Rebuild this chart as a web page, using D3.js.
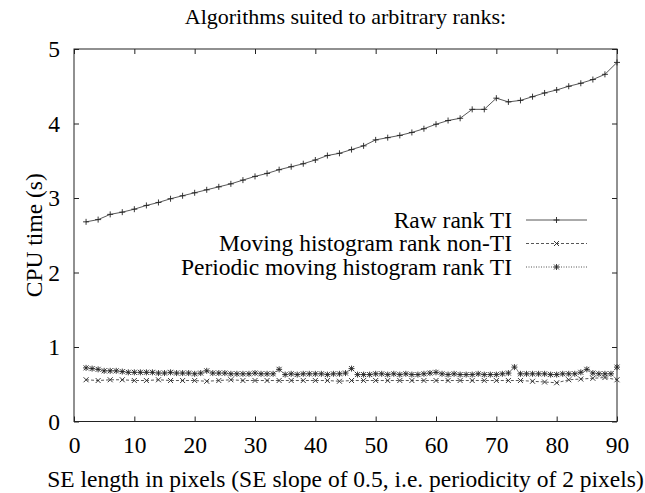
<!DOCTYPE html>
<html>
<head>
<meta charset="utf-8">
<script src="https://cdn.jsdelivr.net/npm/d3@7"></script>
<style>
  body { margin: 0; background: #fff; }
</style>
</head>
<body>
<svg id="chart" width="645" height="493"></svg>
<script>
// SE lengths (pixels) and CPU times (seconds)
const rawRankX = [2,4,6,8,10,12,14,16,18,20,22,24,26,28,30,32,34,36,38,40,42,44,46,48,50,
                  52,54,56,58,60,62,64,66,68,70,72,74,76,78,80,82,84,86,88,90];
const rawRankY = [2.68,2.71,2.78,2.81,2.85,2.90,2.94,2.99,3.03,3.07,3.11,3.15,3.19,3.24,3.29,
                  3.33,3.38,3.42,3.46,3.51,3.57,3.60,3.65,3.70,3.78,3.81,3.84,3.88,3.93,3.99,
                  4.04,4.07,4.19,4.19,4.34,4.29,4.31,4.36,4.41,4.45,4.50,4.54,4.59,4.66,4.82];

const movingX = [2,4,6,8,10,12,14,16,18,20,22,24,26,28,30,32,34,36,38,40,42,44,46,48,50,
                 52,54,56,58,60,62,64,66,68,70,72,74,76,78,80,82,84,86,88,90];
const movingY = [0.56,0.55,0.56,0.56,0.55,0.55,0.56,0.55,0.55,0.55,
                 0.54,0.55,0.56,0.55,0.55,0.55,0.55,0.55,0.55,0.55,
                 0.55,0.54,0.55,0.55,0.55,0.55,0.55,0.55,0.55,0.55,
                 0.55,0.55,0.55,0.55,0.55,0.55,0.55,0.54,0.53,0.52,
                 0.56,0.57,0.58,0.59,0.56];

const periodicX = [2,3,4,5,6,7,8,9,10,11,12,13,14,15,16,17,18,19,20,21,22,23,24,25,26,27,28,29,30,
                   31,32,33,34,35,36,37,38,39,40,41,42,43,44,45,46,47,48,49,50,51,52,53,54,55,56,
                   57,58,59,60,61,62,63,64,65,66,67,68,69,70,71,72,73,74,75,76,77,78,79,80,81,82,
                   83,84,85,86,87,88,89,90];
const periodicY = [0.72,0.71,0.70,0.68,0.68,0.68,0.67,0.66,0.66,0.66,
                   0.66,0.66,0.65,0.65,0.66,0.65,0.65,0.65,0.64,0.65,
                   0.68,0.65,0.65,0.65,0.64,0.64,0.64,0.64,0.65,0.64,
                   0.64,0.64,0.70,0.63,0.64,0.63,0.64,0.64,0.64,0.64,
                   0.63,0.64,0.64,0.65,0.71,0.63,0.63,0.63,0.64,0.64,
                   0.63,0.64,0.63,0.64,0.63,0.63,0.64,0.65,0.66,0.64,
                   0.63,0.64,0.63,0.63,0.63,0.64,0.63,0.63,0.63,0.64,
                   0.65,0.73,0.64,0.64,0.64,0.64,0.64,0.63,0.63,0.64,
                   0.64,0.64,0.66,0.70,0.65,0.64,0.64,0.64,0.73];

const seriesNames = ["Raw rank TI", "Moving histogram rank non-TI", "Periodic moving histogram rank TI"];
const xTicks = [0,10,20,30,40,50,60,70,80,90];
const yTicks = [0,1,2,3,4,5];

const titleText = "Algorithms suited to arbitrary ranks:";
const xLabel = "SE length in pixels (SE slope of 0.5, i.e. periodicity of 2 pixels)";
const yLabel = "CPU time (s)";

const serif = '"Liberation Serif", "Times New Roman", "DejaVu Serif", serif';
const fontSize = 23.5;

const svg = d3.select("#chart");
const M = { left: 74, right: 617, top: 49, bottom: 421.5 };
const x = d3.scaleLinear().domain([0, 90]).range([M.left, M.right]);
const y = d3.scaleLinear().domain([0, 5]).range([M.bottom, M.top]);

const series = [
  { name: seriesNames[0], xs: rawRankX, ys: rawRankY, dash: null, marker: "plus" },
  { name: seriesNames[1], xs: movingX, ys: movingY, dash: "3,2", marker: "cross" },
  { name: seriesNames[2], xs: periodicX, ys: periodicY, dash: "1,1.5", marker: "star" }
];

// axes with inward ticks on all four sides
const tickLen = 5;
const styleLabels = g => g.selectAll("text")
  .attr("font-family", serif).attr("font-size", fontSize).attr("fill", "#000");
svg.append("g").attr("transform", `translate(0,${M.bottom})`)
  .call(d3.axisBottom(x).tickValues(xTicks).tickFormat(d3.format("d"))
        .tickSizeInner(-tickLen).tickSizeOuter(0).tickPadding(15))
  .call(g => g.select(".domain").remove())
  .call(styleLabels);
svg.append("g").attr("transform", `translate(0,${M.top})`)
  .call(d3.axisTop(x).tickValues(xTicks).tickFormat("").tickSizeInner(-tickLen).tickSizeOuter(0))
  .call(g => g.select(".domain").remove());
svg.append("g").attr("transform", `translate(${M.left},0)`)
  .call(d3.axisLeft(y).tickValues(yTicks).tickFormat(d3.format("d"))
        .tickSizeInner(-tickLen).tickSizeOuter(0).tickPadding(14))
  .call(g => g.select(".domain").remove())
  .call(styleLabels);
svg.append("g").attr("transform", `translate(${M.right},0)`)
  .call(d3.axisRight(y).tickValues(yTicks).tickFormat("").tickSizeInner(-tickLen).tickSizeOuter(0))
  .call(g => g.select(".domain").remove());
svg.selectAll(".tick line").attr("stroke", "#222");

// plot frame
svg.append("rect")
  .attr("x", M.left).attr("y", M.top)
  .attr("width", M.right - M.left).attr("height", M.bottom - M.top)
  .attr("fill", "none").attr("stroke", "#222").attr("stroke-width", 1);

// point symbols: + , x and their combination
function markerPath(type, cx, cy) {
  const p = d3.path();
  const s = 3, c = 2.5;
  if (type === "plus" || type === "star") {
    p.moveTo(cx - s, cy); p.lineTo(cx + s, cy);
    p.moveTo(cx, cy - s); p.lineTo(cx, cy + s);
  }
  if (type === "cross" || type === "star") {
    p.moveTo(cx - c, cy - c); p.lineTo(cx + c, cy + c);
    p.moveTo(cx - c, cy + c); p.lineTo(cx + c, cy - c);
  }
  return p.toString();
}

const line = d3.line().x(d => x(d[0])).y(d => y(d[1]));
series.forEach(s => {
  const pts = s.xs.map((v, i) => [v, s.ys[i]]);
  svg.append("path").datum(pts)
    .attr("d", line).attr("fill", "none")
    .attr("stroke", "#444").attr("stroke-width", 0.9)
    .attr("stroke-dasharray", s.dash);
  svg.append("g").selectAll("path").data(pts).join("path")
    .attr("d", d => markerPath(s.marker, x(d[0]), y(d[1])))
    .attr("stroke", "#222").attr("stroke-width", 0.9).attr("fill", "none");
});

// legend
const legend = svg.append("g");
series.forEach((s, i) => {
  const ly = 220 + i * 23.5;
  legend.append("text").attr("x", 512).attr("y", ly + 7.5)
    .attr("text-anchor", "end").attr("font-family", serif).attr("font-size", fontSize)
    .text(s.name);
  legend.append("line").attr("x1", 526).attr("x2", 587).attr("y1", ly).attr("y2", ly)
    .attr("stroke", "#444").attr("stroke-width", 0.9).attr("stroke-dasharray", s.dash);
  legend.append("path").attr("d", markerPath(s.marker, 556.5, ly))
    .attr("stroke", "#222").attr("stroke-width", 0.9).attr("fill", "none");
});

// titles
svg.append("text").attr("x", (M.left + M.right) / 2).attr("y", 24).attr("text-anchor", "middle")
  .attr("font-family", serif).attr("font-size", 22).text(titleText);
svg.append("text").attr("x", (M.left + M.right) / 2).attr("y", 487).attr("text-anchor", "middle")
  .attr("font-family", serif).attr("font-size", fontSize).text(xLabel);
svg.append("text")
  .attr("transform", `translate(42,${(M.top + M.bottom) / 2}) rotate(-90)`)
  .attr("text-anchor", "middle").attr("font-family", serif).attr("font-size", fontSize)
  .text(yLabel);
</script>
</body>
</html>
